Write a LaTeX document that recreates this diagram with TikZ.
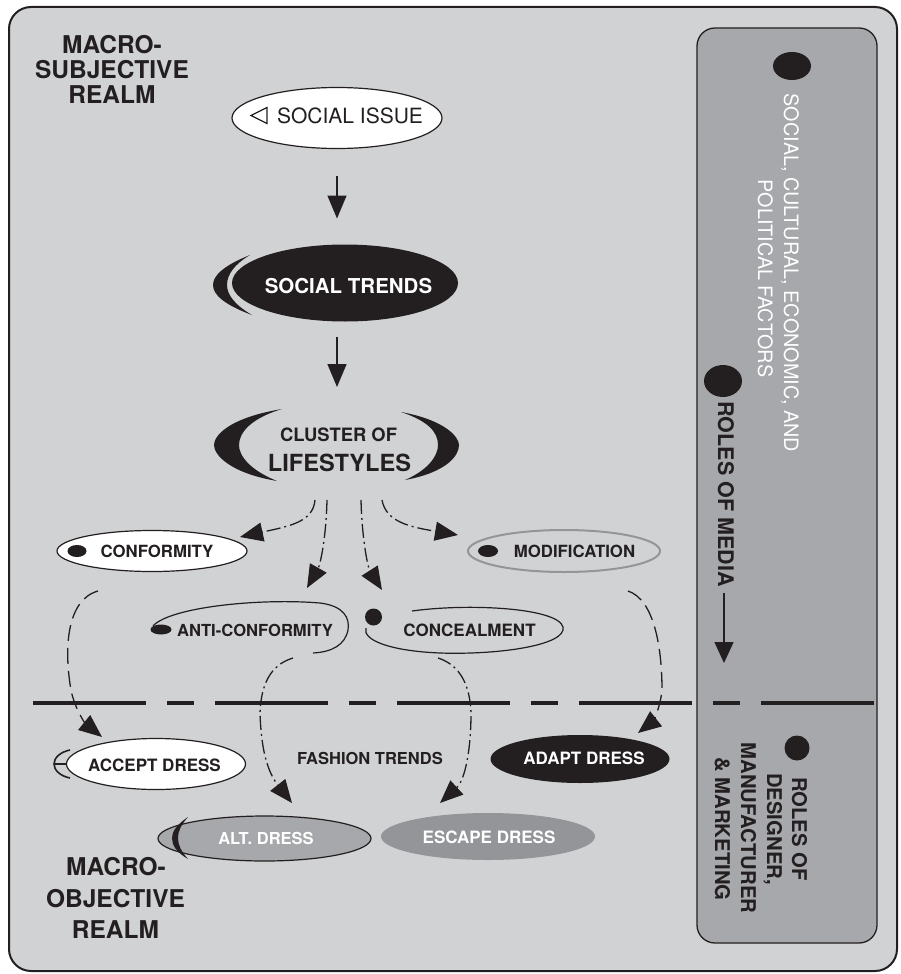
\documentclass[tikz,border=0pt]{standalone}
\usepackage{fontspec}
\setmainfont{TeX Gyre Heros}
\usetikzlibrary{shapes.geometric,arrows.meta}

\definecolor{bgray}{HTML}{D1D2D4}
\definecolor{pgray}{HTML}{A7A8AB}
\definecolor{egray}{HTML}{939598}
\definecolor{ink}{HTML}{231F20}

\newcommand\fsz[1]{\fontsize{#1}{#1}\selectfont}

\begin{document}
\begin{tikzpicture}[x=1pt,y=-1pt,
  every node/.style={inner sep=0pt, outer sep=0pt},
  txt/.style={anchor=base, text=ink},
  bold/.style={font=\bfseries\fsz{#1}},
  plain/.style={font=\fsz{#1}},
  ell/.style={ellipse, inner sep=0pt, line width=1.2pt},
  dotn/.style={ellipse, fill=ink, inner sep=0pt},
  tip/.style={-{Triangle[length=23pt,width=19pt]}},
  solidarrow/.style={draw=ink, line width=1.5pt, tip},
  dashdot/.style={draw=ink, line width=1.3pt, dash pattern=on 14pt off 4pt on 2pt off 4pt, tip},
  longdash/.style={draw=ink, line width=1.3pt, dash pattern=on 16pt off 7pt, tip},
  vtxt/.style={anchor=base, rotate=-90},
]
\useasboundingbox (0,0) rectangle (900,974);

% frame and side panel
\draw[ink, line width=2pt, fill=bgray, rounded corners=22pt] (9,7) rectangle (897,971);
\draw[ink, line width=1.3pt, fill=pgray, rounded corners=18pt] (697,28) rectangle (877,943);

% realm titles
\node[txt, bold=24.5] (ms1) at (112,53) {MACRO-};
\node[txt, bold=24.5] (ms2) at (112,78) {SUBJECTIVE};
\node[txt, bold=24.5] (ms3) at (112,103) {REALM};
\node[txt, bold=24.5] (mo1) at (116,875) {MACRO-};
\node[txt, bold=24.5] (mo2) at (115.5,907) {OBJECTIVE};
\node[txt, bold=24.5] (mo3) at (115.5,938) {REALM};

% social issue
\node[ell, draw=ink, fill=white, minimum width=210pt, minimum height=61pt] (issue) at (337,118) {};
\draw[ink, line width=1.2pt, line join=miter] (251,115.5) -- (267,107.5) -- (267,123.5) -- cycle;
\node[txt, plain=21] (issuetxt) at (350,123) {SOCIAL ISSUE};

% social trends
\node[ell, fill=ink, minimum width=226pt, minimum height=77pt] (trends) at (345,283) {};
\fill[ink] (250,255) .. controls (225,265) and (213,275) .. (213,285)
  .. controls (213,295) and (225,305) .. (252,315)
  .. controls (235,305) and (227,295) .. (227,285)
  .. controls (227,274) and (235,264) .. (250,255) -- cycle;
\node[txt, bold=20.5, text=white] (trendstxt) at (348.5,293) {SOCIAL TRENDS};

% cluster of lifestyles
\node[minimum width=245pt, minimum height=72pt] (cluster) at (337,445) {};
\fill[ink] (282,409) .. controls (228,418) and (214,436) .. (214,445)
  .. controls (214,455) and (230,473) .. (277,481)
  .. controls (250,470) and (239,456) .. (239,445)
  .. controls (239,432) and (252,418) .. (282,409) -- cycle;
\fill[ink] (401,412) .. controls (445,420) and (459,437) .. (459,445)
  .. controls (459,455) and (448,472) .. (405,480)
  .. controls (428,470) and (438,456) .. (438,445)
  .. controls (438,432) and (428,421) .. (401,412) -- cycle;
\node[txt, bold=18.4] (cl1) at (338.5,441) {CLUSTER OF};
\node[txt, bold=23.6] (cl2) at (339.5,471) {LIFESTYLES};

\draw[solidarrow, shorten <=27pt, shorten >=26pt] (issue.south) -- (issue.south |- trends.north);
\draw[solidarrow, shorten <=15pt, shorten >=22pt] (trends.south -| cluster.north) -- (cluster.north);

% four responses
\node[ell, draw=ink, fill=white, minimum width=190pt, minimum height=41pt] (conf) at (152,551) {};
\node[dotn, minimum width=19pt, minimum height=12pt] (confdot) at (77,551) {};
\node[txt, bold=16.8] (conftxt) at (157,557) {CONFORMITY};

\node[ell, draw=egray, line width=2pt, minimum width=192pt, minimum height=42pt] (modif) at (564,551) {};
\node[dotn, minimum width=20pt, minimum height=12pt] (modifdot) at (488,551) {};
\node[txt, bold=16.8] (modiftxt) at (574.5,557) {MODIFICATION};

\draw[ink, line width=1.2pt] (153,626) .. controls (170,607) and (260,598) .. (320,603)
  .. controls (344,606) and (350,618) .. (348,630)
  .. controls (345,645) and (332,652) .. (313,653);
\node[dotn, minimum width=21pt, minimum height=10pt] (antidot) at (161,629.5) {};
\node[txt, bold=16.6] (antitxt) at (255,636) {ANTI-CONFORMITY};

\draw[ink, line width=1.2pt] (412,611) .. controls (470,603) and (558,608) .. (563,627)
  .. controls (567,645) and (500,655) .. (440,653)
  .. controls (390,651) and (362,640) .. (366,628);
\node[dotn, minimum width=17pt, minimum height=17pt] (concdot) at (373.5,617) {};
\node[txt, bold=17] (conctxt) at (469.5,636) {CONCEALMENT};

\coordinate (k1) at (315,500);
\coordinate (k2) at (327,500);
\coordinate (k3) at (361,500);
\coordinate (k4) at (382,500);
\coordinate (toconf) at (240,537);
\coordinate (toanti) at (307,588);
\coordinate (toconc) at (382,590);
\coordinate (tomodif) at (458,535);
\draw[dashdot] (k1) .. controls (313,522) and (290,526) .. (toconf);
\draw[dashdot] (k2) .. controls (326,540) and (320,565) .. (toanti);
\draw[dashdot] (k3) .. controls (362,540) and (368,568) .. (toconc);
\draw[dashdot] (k4) .. controls (386,522) and (410,527) .. (tomodif);

% boundary between the realms
\coordinate (hl) at (33,703);
\coordinate (hr) at (877,703);
\draw[ink, line width=3.5pt, dash pattern=on 113pt off 21pt on 27pt off 21pt] (hl) -- (hr);

% dress outcomes
\node[ell, draw=ink, fill=white, minimum width=179pt, minimum height=51pt] (accept) at (156,764) {};
\draw[ink, line width=1.6pt] (70,750) .. controls (60,752) and (54,758) .. (54,764)
  .. controls (54,770) and (60,776) .. (70,778);
\draw[ink, line width=1.6pt] (54,764) -- (accept.west);
\node[txt, bold=17] (accepttxt) at (154.5,771) {ACCEPT DRESS};

\node[ell, fill=ink, minimum width=179pt, minimum height=48pt] (adapt) at (580,759) {};
\node[txt, bold=17, text=white] (adapttxt) at (584,764) {ADAPT DRESS};

\node[txt, bold=16.5] (fashion) at (370,764) {FASHION TRENDS};

\node[ell, draw=ink, fill=pgray, minimum width=213pt, minimum height=45pt] (alt) at (264.5,838.5) {};
\fill[ink] (188,817) .. controls (176,825) and (172,832) .. (172,838)
  .. controls (172,845) and (176,852) .. (188,859)
  .. controls (181,851) and (178,845) .. (178,838)
  .. controls (178,831) and (181,825) .. (188,817) -- cycle;
\node[txt, bold=16.5, text=white] (alttxt) at (266,844) {ALT. DRESS};

\node[ell, fill=egray, minimum width=214pt, minimum height=47pt] (escape) at (488,836.5) {};
\node[txt, bold=17, text=white] (escapetxt) at (489,843) {ESCAPE DRESS};

\coordinate (toaccept) at (102,737);
\coordinate (toalt) at (292,803);
\coordinate (toescape) at (440,803);
\coordinate (toadapt) at (638,733);
\coordinate (fromconf) at (98,591);
\coordinate (fromanti) at (293,658);
\coordinate (fromconc) at (438,658);
\coordinate (frommodif) at (628,591);
\draw[longdash] (fromconf) .. controls (66,600) and (64,650) .. (71,690)
  .. controls (75,710) and (86,724) .. (toaccept);
\draw[dashdot] (fromanti) .. controls (270,665) and (261,685) .. (260,713)
  .. controls (261,745) and (266,770) .. (toalt);
\draw[dashdot] (fromconc) .. controls (460,665) and (470,685) .. (471,713)
  .. controls (471,750) and (465,780) .. (toescape);
\draw[longdash] (frommodif) .. controls (655,600) and (662,650) .. (662,690)
  .. controls (660,710) and (652,722) .. (toadapt);

% side panel labels
\node[dotn, minimum width=38pt, minimum height=28pt] (pdot1) at (792,66) {};
\node[vtxt, text=white, plain=19.8] (factors1) at (784,273) {SOCIAL, CULTURAL, ECONOMIC, AND};
\node[vtxt, text=white, plain=19.8] (factors2) at (758,278.5) {POLITICAL FACTORS};

\node[dotn, minimum width=38pt, minimum height=32pt] (pdot2) at (723,381) {};
\node[vtxt, text=ink, bold=21.5] (media) at (718,494) {ROLES OF MEDIA};
\coordinate (mediaend) at (724,663);
\draw[draw=ink, line width=1.5pt, -{Triangle[length=21pt,width=19pt]}, shorten <=6pt] (mediaend |- media.east) -- (mediaend);

\node[dotn, minimum width=25pt, minimum height=25pt] (pdot3) at (797,748) {};
\node[vtxt, text=ink, bold=20.3] (des1) at (792,829) {ROLES OF};
\node[vtxt, text=ink, bold=20.3] (des2) at (767,829) {DESIGNER,};
\node[vtxt, text=ink, bold=20.3] (des3) at (741,828) {MANUFACTURER};
\node[vtxt, text=ink, bold=20.3] (des4) at (715,829) {\& MARKETING};
\end{tikzpicture}
\end{document}
